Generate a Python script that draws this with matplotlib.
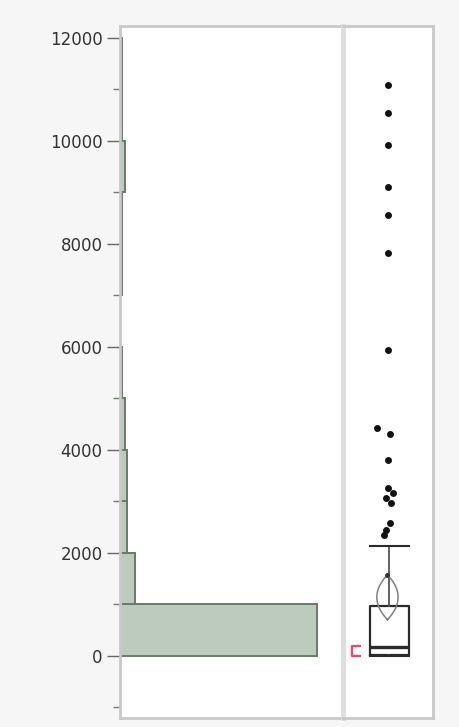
import matplotlib
matplotlib.use("Agg")
import matplotlib.pyplot as plt
import numpy as np

# ---- data ----
bin_edges = [0, 1000, 2000, 3000, 4000, 5000, 6000, 7000, 8000, 9000, 10000, 11000, 12000]
bin_counts = [79, 6, 3, 3, 2, 1, 0, 1, 1, 2, 1, 1]
y_ticks = [0, 2000, 4000, 6000, 8000, 10000, 12000]
y_tick_labels = ["0", "2000", "4000", "6000", "8000", "10000", "12000"]

q1, median, q3 = 10, 170, 970
whisker_low, whisker_high = 0, 2130
mean_value, mean_ci_low, mean_ci_high = 1135, 700, 1570
shortest_half_low, shortest_half_high = 0, 190
outliers = [11090, 10540, 9920, 9110, 8560, 7820, 5940, 4430, 4310, 3810,
            3260, 3160, 3070, 2970, 2580, 2440, 2350]
outlier_jitter = [0, 0, 0, 0, 0, 0, 0, -0.12, 0.02, 0, 0, 0.05, -0.02, 0.03, 0.02, -0.02, -0.04]

W, H = 459, 727
fig = plt.figure(figsize=(W / 100, H / 100), dpi=100, facecolor="#f6f6f6")

def ax_rect(x0, x1, y_top, y_bot):
    return [x0 / W, 1 - y_bot / H, (x1 - x0) / W, (y_bot - y_top) / H]

ax = fig.add_axes(ax_rect(120, 343, 26, 718))
axb = fig.add_axes(ax_rect(343, 433, 26, 718), sharey=ax)

ylim = (-1210, 12230)

# histogram
edges = np.array(bin_edges)
ax.barh(edges[:-1], bin_counts, height=np.diff(edges), align="edge",
        color="#bccbbb", edgecolor="#6d786d", linewidth=1.4, zorder=2)
ax.set_xlim(0, 89.5)
ax.set_ylim(*ylim)
ax.set_xticks([])
ax.set_yticks(y_ticks)
ax.set_yticklabels(y_tick_labels)
ax.set_yticks(np.arange(-1000, 12001, 1000), minor=True)
ax.tick_params(axis="y", which="major", length=9.5, width=1.0, color="#666666",
               labelsize=12, labelcolor="#333333", pad=3)
ax.tick_params(axis="y", which="minor", length=5, width=1.0, color="#777777")
for s in ax.spines.values():
    s.set_color("#c8c8c8")
    s.set_linewidth(2)
ax.spines["right"].set_visible(False)

# box plot panel
axb.set_xlim(0, 1)
axb.set_ylim(*ylim)
axb.tick_params(axis="y", which="both", left=False, labelleft=False)
axb.set_xticks([])
for s in axb.spines.values():
    s.set_color("#c8c8c8")
    s.set_linewidth(2)
axb.spines["left"].set_linewidth(3.5)
axb.spines["left"].set_color("#dedede")

stats = [dict(med=median, q1=q1, q3=q3, whislo=whisker_low, whishi=whisker_high,
              fliers=[], mean=mean_value)]
bcol = "#2a2a2a"
axb.bxp(stats, positions=[0.515], widths=[0.435], showfliers=False, showmeans=False,
        boxprops=dict(color=bcol, linewidth=1.6),
        medianprops=dict(color=bcol, linewidth=2.4),
        whiskerprops=dict(color="#555555", linewidth=1.3),
        capprops=dict(color=bcol, linewidth=1.5),
        capwidths=[0.435], manage_ticks=False)

# mean diamond (lens shape, pointed at the confidence limits)
t = np.linspace(-1, 1, 60)
half_h = (mean_ci_high - mean_ci_low) / 2
mid = (mean_ci_high + mean_ci_low) / 2
hw = 0.118
lens_x = np.concatenate([0.494 + hw * (1 - t ** 2), 0.494 - hw * (1 - t[::-1] ** 2)])
lens_y = np.concatenate([mid + t * half_h, mid + t[::-1] * half_h])
axb.plot(lens_x, lens_y, color="#808080", linewidth=1.1, zorder=3)
axb.plot(0.494, mean_ci_high, "o", color="#333333", markersize=2.5, zorder=3)

# shortest half bracket
rc = "#ff4060"
axb.plot([0.20, 0.105, 0.105, 0.20],
         [shortest_half_high, shortest_half_high, shortest_half_low, shortest_half_low],
         color=rc, linewidth=1.6, solid_capstyle="butt")

# outliers
xs = 0.50 + np.array(outlier_jitter)
axb.plot(xs, outliers, "o", color="#111111", markersize=5.0, markeredgewidth=0, zorder=4)

fig.savefig("out.png", dpi=100, facecolor=fig.get_facecolor())
